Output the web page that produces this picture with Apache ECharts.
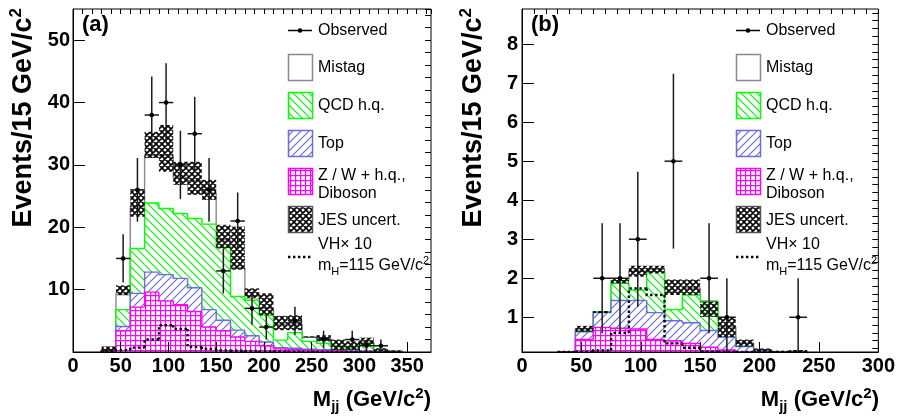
<!DOCTYPE html>
<html><head><meta charset="utf-8">
<script src="https://cdn.jsdelivr.net/npm/echarts@6/dist/echarts.min.js"></script>
<style>html,body{margin:0;padding:0;background:#fff}#c{width:898px;height:416px}</style>
</head><body><div id="c"></div>
<script>
// ---------------- DATA ----------------
const binWidth = 15;
// Panel (a)
const binsA   = [30,45,60,75,90,105,120,135,150,165,180,195,210,225,240,255,270,285,300,315,330];
const zwA     = [0.2,3.4,7.2,9.6,8.2,7.6,6.5,4.0,3.4,2.4,1.7,1.0,0.5,0.35,0.3,0.25,0.15,0.1,0.1,0.05,0.03];
const topA    = [0.05,0.7,2.2,3.2,4.2,4.2,3.8,2.8,1.7,1.1,0.9,0.6,0.2,0.25,0.15,0.1,0.1,0.05,0.05,0.03,0.02];
const qcdA    = [0.05,2.7,7.2,11.1,10.6,10.4,11.1,13.7,11.7,5.4,5.7,4.3,1.2,2.5,1.25,1.05,0.65,0.45,1.25,0.12,0.05];
const mistagA = [0.1,2.5,6.7,7.6,8.5,5.8,6.1,5.0,1.2,4.6,0.7,1.1,2.6,1.4,0.7,0.8,0.1,0.3,0.2,0.05,0.02];
const jesLoA  = [0.1,9.1,21.7,31.1,28.9,26.8,25.2,24.4,16.6,13.2,8.6,5.9,3.5,3.5,2.3,1.7,0.3,0.3,1.0,0.05,0.05];
const jesHiA  = [0.9,10.7,25.9,35.3,36.4,30.5,30.5,27.6,20.4,20.1,10.2,9.4,5.8,5.9,2.5,2.7,2.0,1.7,2.3,0.6,0.25];
const vhA     = [0.1,0.3,0.7,2.0,4.3,3.7,0.85,0.5,0.25,0.2,0.15,0.1,0.08,0.05,0.04,0.03,0.02,0.02,0.01,0.01,0.01];
const obsXA   = [52.5,67.5,82.5,97.5,112.5,127.5,142.5,157.5,172.5,187.5,202.5,232.5,262.5,292.5,307.5,322.5];
const obsNA   = [15,26,38,40,30,35,26,13,21,7,4,5,2,2,1,1];
const obsErrA = [3.87,5.10,6.16,6.32,5.48,5.92,5.10,3.61,4.58,2.65,2.0,2.24,1.41,1.41,1.0,1.0];
// Panel (b)
const binsB   = [30,45,60,75,90,105,120,135,150,165,180,195,210,225];
const zwB     = [0.05,0.43,0.74,0.72,0.70,0.43,0.40,0.33,0.23,0.16,0.10,0.07,0.05,0.05];
const topB    = [0.03,0.20,0.38,0.71,0.73,0.69,0.51,0.53,0.43,0.33,0.15,0.07,0.03,0.02];
const qcdB    = [0.01,0.02,0.02,0.44,0.27,1.05,0.29,0.71,0.74,0.01,0.01,0.01,0.01,0.03];
const mistagB = [0.01,0.05,0.00,0.07,0.48,0.06,0.45,0.18,0.02,0.25,0.08,0.01,0.03,0.03];
const jesLoB  = [0.08,0.63,1.11,1.87,2.04,2.12,1.57,1.57,1.01,0.49,0.25,0.12,0.10,0.10];
const jesHiB  = [0.12,0.78,1.16,2.00,2.32,2.32,1.97,1.97,1.40,1.01,0.43,0.20,0.14,0.16];
const vhB     = [0.05,0.10,0.15,0.60,1.74,1.57,0.33,0.22,0.12,0.10,0.06,0.04,0.03,0.02];
const obsXB   = [67.5,82.5,97.5,127.5,157.5,172.5,232.5];
const obsNB   = [2,2,3,5,2,1,1];
const obsErrB = [1.41,1.41,1.73,2.24,1.41,1.0,1.0];
// Tick labels
const yTicksB = [1,2,3,4,5,6,7,8];

// ---------------- STYLE ----------------
const FONT = 'Liberation Sans, Arial, Helvetica, sans-serif';
const GREEN = '#00ff00', BLUE = '#6a6ae6', MAGENTA = '#ff00ff', GRAY = '#8a8a8a';

function makeTile(size, bg, draw) {
  const c = document.createElement('canvas'); c.width = size; c.height = size;
  const g = c.getContext('2d');
  if (bg) { g.fillStyle = bg; g.fillRect(0, 0, size, size); }
  draw(g, size);
  return { image: c, repeat: 'repeat' };
}
const patQCD = makeTile(8, '#fff', (g, s) => {
  g.strokeStyle = GREEN; g.lineWidth = 1.2; g.beginPath();
  g.moveTo(-1, -1); g.lineTo(s + 1, s + 1);
  g.moveTo(s - 1, -1); g.lineTo(s + 1, 1);
  g.moveTo(-1, s - 1); g.lineTo(1, s + 1); g.stroke();
});
const patTop = makeTile(8, '#fff', (g, s) => {
  g.strokeStyle = BLUE; g.lineWidth = 1.2; g.beginPath();
  g.moveTo(-1, s + 1); g.lineTo(s + 1, -1);
  g.moveTo(-1, 1); g.lineTo(1, -1);
  g.moveTo(s - 1, s + 1); g.lineTo(s + 1, s - 1); g.stroke();
});
const patZW = makeTile(5, '#fff', (g, s) => {
  g.fillStyle = MAGENTA; g.fillRect(0, 0, s, 1.2); g.fillRect(0, 0, 1.2, s);
});
function jesDraw(g, s) {
  g.strokeStyle = '#000'; g.lineWidth = 1.6; g.beginPath();
  g.moveTo(-1, -1); g.lineTo(s + 1, s + 1);
  g.moveTo(s + 1, -1); g.lineTo(-1, s + 1);
  g.moveTo(s - 1, -1); g.lineTo(s + 1, 1);
  g.moveTo(-1, s - 1); g.lineTo(1, s + 1);
  g.moveTo(-1, 1); g.lineTo(1, -1);
  g.moveTo(s - 1, s + 1); g.lineTo(s + 1, s - 1);
  g.stroke();
}
const patJES = makeTile(6, null, jesDraw);
const patJESLegend = makeTile(6, '#fff', jesDraw);

function cumulate(list) {
  const out = []; let acc = list[0].map(() => 0);
  list.forEach(arr => { acc = acc.map((v, i) => v + arr[i]); out.push(acc.slice()); });
  return out;
}
const [cZwA, cTopA, cQcdA, cTotA] = cumulate([zwA, topA, qcdA, mistagA]);
const [cZwB, cTopB, cQcdB, cTotB] = cumulate([zwB, topB, qcdB, mistagB]);

function layerSeries(gi, bins, tops, yMin, fill, stroke, z) {
  return {
    type: 'custom', xAxisIndex: gi * 2, yAxisIndex: gi * 2, z: z, clip: true, silent: true,
    data: bins.map((b, i) => [b, b + binWidth, tops[i]]),
    renderItem: (params, api) => {
      const i = params.dataIndex;
      const x0 = api.value(0), x1 = api.value(1), v = Math.max(api.value(2), yMin);
      const prev = i > 0 ? Math.max(tops[i - 1], yMin) : yMin;
      const pTL = api.coord([x0, v]), pBR = api.coord([x1, yMin]);
      const pTR = api.coord([x1, v]), pPrev = api.coord([x0, prev]);
      const pts = [pPrev, pTL, pTR];
      if (i === tops.length - 1) pts.push(pBR);
      const children = [];
      if (fill) children.push({ type: 'rect', shape: { x: pTL[0], y: pTL[1], width: pBR[0] - pTL[0], height: pBR[1] - pTL[1] }, style: { fill: fill } });
      children.push({ type: 'polyline', shape: { points: pts }, style: { stroke: stroke, lineWidth: 1.4, fill: null } });
      return { type: 'group', children: children };
    }
  };
}
function jesSeries(gi, bins, lo, hi, yMin, z) {
  return {
    type: 'custom', xAxisIndex: gi * 2, yAxisIndex: gi * 2, z: z, clip: true, silent: true,
    data: bins.map((b, i) => [b, b + binWidth, lo[i], hi[i]]),
    renderItem: (params, api) => {
      const a = api.coord([api.value(0), Math.max(api.value(3), yMin)]);
      const b = api.coord([api.value(1), Math.max(api.value(2), yMin)]);
      return { type: 'rect', shape: { x: a[0], y: a[1], width: b[0] - a[0], height: b[1] - a[1] }, style: { fill: patJES } };
    }
  };
}
function vhSeries(gi, bins, vals, yMin, z) {
  return {
    type: 'custom', xAxisIndex: gi * 2, yAxisIndex: gi * 2, z: z, clip: true, silent: true,
    data: bins.map((b, i) => [b, b + binWidth, vals[i]]),
    renderItem: (params, api) => {
      const i = params.dataIndex;
      const v = Math.max(api.value(2), yMin);
      const prev = i > 0 ? Math.max(vals[i - 1], yMin) : yMin;
      const pts = [api.coord([api.value(0), prev]), api.coord([api.value(0), v]), api.coord([api.value(1), v])];
      if (i === vals.length - 1) pts.push(api.coord([api.value(1), yMin]));
      return { type: 'polyline', shape: { points: pts }, style: { stroke: '#000', lineWidth: 2.4, lineDash: [2.4, 2.6], fill: null } };
    }
  };
}
function obsSeries(gi, xs, ns, errs, yMin, z) {
  return {
    type: 'custom', xAxisIndex: gi * 2, yAxisIndex: gi * 2, z: z, clip: true, silent: true,
    data: xs.map((x, i) => [x, ns[i], errs[i]]),
    renderItem: (params, api) => {
      const x = api.value(0), n = api.value(1), e = api.value(2);
      const c = api.coord([x, n]);
      const t = api.coord([x, n + e]);
      const b = api.coord([x, Math.max(n - e, yMin)]);
      const l = api.coord([x - binWidth / 2, n]);
      const r = api.coord([x + binWidth / 2, n]);
      const st = { stroke: '#1a1a1a', lineWidth: 1.5 };
      return { type: 'group', children: [
        { type: 'line', shape: { x1: t[0], y1: t[1], x2: b[0], y2: b[1] }, style: st },
        { type: 'line', shape: { x1: l[0], y1: l[1], x2: r[0], y2: r[1] }, style: st },
        { type: 'circle', shape: { cx: c[0], cy: c[1], r: 2.3 }, style: { fill: '#000' } }
      ] };
    }
  };
}

const yMinA = 0, yMinB = 0.11;
const minorYB = []; for (let k = 1; k <= 44; k++) minorYB.push(k * 0.2);

function mainX(gi, max) {
  return { gridIndex: gi, type: 'value', min: 0, max: max, interval: 50, z: 50,
    axisLine: { show: true, onZero: false, lineStyle: { color: '#000', width: 1 } },
    axisTick: { show: true, inside: true, length: 10, lineStyle: { color: '#000', width: 1 } },
    axisLabel: { fontFamily: FONT, fontWeight: 'bold', fontSize: 20, color: '#000', margin: 4, showMaxLabel: max % 50 === 0 },
    splitLine: { show: false } };
}
function minorX(gi, max) {
  return { gridIndex: gi, type: 'value', min: 0, max: max, interval: 10, z: 50,
    axisLine: { show: false, onZero: false }, axisTick: { show: true, inside: true, length: 5, lineStyle: { color: '#000', width: 1 } },
    axisLabel: { show: false }, splitLine: { show: false } };
}

const option = {
  animation: false,
  backgroundColor: '#fff',
  grid: [
    { left: 73, top: 9, width: 358, height: 343, show: true, borderColor: '#000', borderWidth: 1, backgroundColor: 'transparent', z: 50 },
    { left: 522, top: 9, width: 358, height: 343, show: true, borderColor: '#000', borderWidth: 1, backgroundColor: 'transparent', z: 50 }
  ],
  xAxis: [ mainX(0, 375), minorX(0, 375), mainX(1, 300), minorX(1, 300) ],
  yAxis: [
    { gridIndex: 0, type: 'value', min: 0, max: 55, interval: 10, z: 50,
      axisLine: { show: true, onZero: false, lineStyle: { color: '#000', width: 1 } },
      axisTick: { show: true, inside: true, length: 12, lineStyle: { color: '#000' } },
      axisLabel: { fontFamily: FONT, fontWeight: 'bold', fontSize: 20, color: '#000', margin: 3, showMaxLabel: false, showMinLabel: false },
      splitLine: { show: false } },
    { gridIndex: 0, type: 'value', min: 0, max: 55, interval: 2, z: 50,
      axisLine: { show: false, onZero: false }, axisTick: { show: true, inside: true, length: 6, lineStyle: { color: '#000' } },
      axisLabel: { show: false }, splitLine: { show: false } },
    { gridIndex: 1, type: 'value', min: yMinB, max: 8.9, z: 50,
      axisLine: { show: true, onZero: false, lineStyle: { color: '#000', width: 1 } },
      axisTick: { show: true, inside: true, length: 12, customValues: yTicksB, lineStyle: { color: '#000' } },
      axisLabel: { fontFamily: FONT, fontWeight: 'bold', fontSize: 20, color: '#000', margin: 4, customValues: yTicksB },
      splitLine: { show: false } },
    { gridIndex: 1, type: 'value', min: yMinB, max: 8.9, z: 50,
      axisLine: { show: false, onZero: false }, axisTick: { show: true, inside: true, length: 6, customValues: minorYB, lineStyle: { color: '#000' } },
      axisLabel: { show: false }, splitLine: { show: false } }
  ],
  series: [
    layerSeries(0, binsA, cTotA, yMinA, '#fff', GRAY, 10),
    layerSeries(0, binsA, cQcdA, yMinA, patQCD, GREEN, 11),
    layerSeries(0, binsA, cTopA, yMinA, patTop, BLUE, 12),
    layerSeries(0, binsA, cZwA, yMinA, patZW, MAGENTA, 13),
    jesSeries(0, binsA, jesLoA, jesHiA, yMinA, 14),
    vhSeries(0, binsA, vhA, yMinA, 15),
    obsSeries(0, obsXA, obsNA, obsErrA, yMinA, 16),
    layerSeries(1, binsB, cTotB, yMinB, '#fff', GRAY, 10),
    layerSeries(1, binsB, cQcdB, yMinB, patQCD, GREEN, 11),
    layerSeries(1, binsB, cTopB, yMinB, patTop, BLUE, 12),
    layerSeries(1, binsB, cZwB, yMinB, patZW, MAGENTA, 13),
    jesSeries(1, binsB, jesLoB, jesHiB, yMinB, 14),
    vhSeries(1, binsB, vhB, yMinB, 15),
    obsSeries(1, obsXB, obsNB, obsErrB, yMinB, 16)
  ],
  graphic: []
};

function txt(x, y, text, size, opts) {
  return Object.assign({ type: 'text', x: x, y: y, z: 100, silent: true,
    style: Object.assign({ text: text, fill: '#000', fontFamily: FONT, fontSize: size, align: 'left', verticalAlign: 'middle' }, opts || {}) });
}
function legend(ox) {
  const tx = ox + 30, W = 24, H = 26;
  const box = (y, fill, stroke) => ({ type: 'rect', z: 100, silent: true, shape: { x: ox + 0.5, y: y + 0.5, width: W, height: H }, style: { fill: fill, stroke: stroke, lineWidth: 1.5 } });
  return [
    { type: 'line', z: 100, silent: true, shape: { x1: ox, y1: 30.5, x2: ox + W, y2: 30.5 }, style: { stroke: '#000', lineWidth: 1.5 } },
    { type: 'circle', z: 100, silent: true, shape: { cx: ox + W / 2, cy: 30.5, r: 2.3 }, style: { fill: '#000' } },
    txt(tx, 31, 'Observed', 16),
    box(54, '#fff', GRAY), txt(tx, 68, 'Mistag', 16),
    box(92, patQCD, GREEN), txt(tx, 106, 'QCD h.q.', 16),
    box(130, patTop, BLUE), txt(tx, 144, 'Top', 16),
    box(168, patZW, MAGENTA), txt(tx, 176, 'Z / W + h.q.,', 16), txt(tx, 194, 'Diboson', 16),
    box(206, patJESLegend, '#555'), txt(tx, 220.5, 'JES uncert.', 16),
    txt(tx, 245, 'VH\u00d7 10', 16),
    { type: 'line', z: 100, silent: true, shape: { x1: ox, y1: 257, x2: ox + W, y2: 257 }, style: { stroke: '#000', lineWidth: 2.4, lineDash: [2.4, 2.6] } },
    txt(tx, 266, 'm{sub|H}=115 GeV/c{sup|2}', 16, { lineHeight: 22, rich: { sub: { fontSize: 11, lineHeight: 10, verticalAlign: 'bottom', fontFamily: FONT }, sup: { fontSize: 11, lineHeight: 10, verticalAlign: 'top', fontFamily: FONT } } })
  ];
}
const yTitle = { fontWeight: 'bold', lineHeight: 31, align: 'right', verticalAlign: 'bottom', rich: { sup: { fontSize: 17, lineHeight: 17, verticalAlign: 'top', fontWeight: 'bold', fontFamily: FONT } } };
const xTitle = { fontWeight: 'bold', lineHeight: 28, align: 'right', rich: { sup: { fontSize: 15, lineHeight: 15, verticalAlign: 'top', fontWeight: 'bold', fontFamily: FONT }, sub: { fontSize: 15, lineHeight: 15, verticalAlign: 'bottom', fontWeight: 'bold', fontFamily: FONT } } };
option.graphic = [].concat(
  legend(288), legend(736),
  [
    txt(82, 25, '(a)', 22, { fontWeight: 'bold' }),
    txt(531, 25, '(b)', 22, { fontWeight: 'bold' }),
    Object.assign(txt(39, 8, 'Events/15 GeV/c{sup|2}', 27, yTitle), { rotation: Math.PI / 2 }),
    Object.assign(txt(489, 8, 'Events/15 GeV/c{sup|2}', 27, yTitle), { rotation: Math.PI / 2 }),
    txt(431, 400, 'M{sub|jj} (GeV/c{sup|2})', 22, xTitle),
    txt(879, 400, 'M{sub|jj} (GeV/c{sup|2})', 22, xTitle)
  ]
);

const chart = echarts.init(document.getElementById('c'));
chart.setOption(option);
</script>
</body></html>
